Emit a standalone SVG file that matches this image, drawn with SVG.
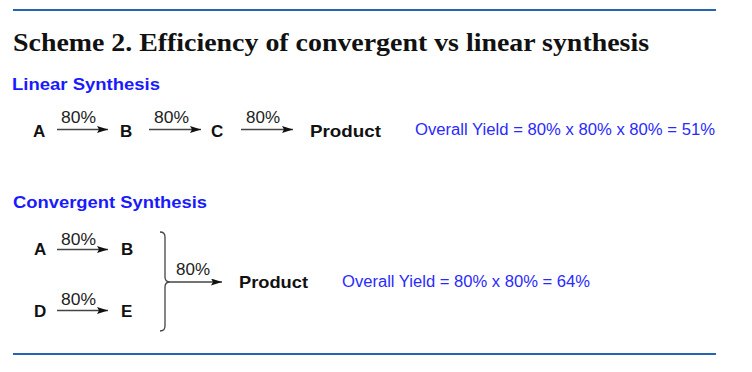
<svg xmlns="http://www.w3.org/2000/svg" width="752" height="372" viewBox="0 0 752 372">
<style>
.rule{stroke:#2563b3;stroke-width:2.2}
.title{font-family:"Liberation Serif","DejaVu Serif",serif;font-weight:bold;font-size:26px;fill:#111}
.head{font-family:"Liberation Sans",Arial,sans-serif;font-weight:bold;font-size:17px;fill:#1a1aff}
.node{font-family:"Liberation Sans",Arial,sans-serif;font-weight:bold;font-size:17px;fill:#111}
.pct{font-family:"Liberation Sans",Arial,sans-serif;font-size:16px;fill:#222}
.yield{font-family:"Liberation Sans",Arial,sans-serif;font-size:16px;fill:#2a2aff}
.arr{stroke:#444;stroke-width:1.3;fill:none}
</style>
<defs>
<marker id="ah" viewBox="0 0 11 7" refX="11" refY="3.5" markerWidth="11" markerHeight="7" markerUnits="userSpaceOnUse" orient="auto">
<path d="M0,0 L11,3.5 L0,7 L2,3.5 Z" fill="#111"/>
</marker>
</defs>
<line class="rule" x1="13" y1="10" x2="716" y2="10"/>
<line class="rule" x1="13" y1="354" x2="716" y2="354"/>
<text class="title" x="13" y="51" textLength="636" lengthAdjust="spacingAndGlyphs">Scheme 2. Efficiency of convergent vs linear synthesis</text>
<text class="head" x="12" y="90" textLength="148" lengthAdjust="spacingAndGlyphs">Linear Synthesis</text>
<text class="head" x="13" y="208" textLength="194" lengthAdjust="spacingAndGlyphs">Convergent Synthesis</text>

<g id="linA"><text class="node" x="33" y="137">A</text></g>
<g id="linB"><text class="node" x="120" y="137">B</text></g>
<g id="linC"><text class="node" x="211" y="137">C</text></g>
<g id="linProduct"><text class="node" x="310" y="137" textLength="71" lengthAdjust="spacingAndGlyphs">Product</text></g>
<g id="linYield"><text class="yield" x="415" y="135" textLength="300" lengthAdjust="spacingAndGlyphs">Overall Yield = 80% x 80% x 80% = 51%</text></g>

<g id="convA"><text class="node" x="34" y="255">A</text></g>
<g id="convB"><text class="node" x="121" y="255">B</text></g>
<g id="convD"><text class="node" x="34" y="317">D</text></g>
<g id="convE"><text class="node" x="121" y="317">E</text></g>
<g id="convProduct"><text class="node" x="239" y="288" textLength="69" lengthAdjust="spacingAndGlyphs">Product</text></g>
<g id="convYield"><text class="yield" x="342" y="287" textLength="248" lengthAdjust="spacingAndGlyphs">Overall Yield = 80% x 80% = 64%</text></g>

<g id="connectors">
<line class="arr" x1="57" y1="129.5" x2="108" y2="129.5" marker-end="url(#ah)"/>
<text class="pct" x="61" y="123" textLength="35" lengthAdjust="spacingAndGlyphs">80%</text>
<line class="arr" x1="149" y1="129.5" x2="201" y2="129.5" marker-end="url(#ah)"/>
<text class="pct" x="154" y="123" textLength="35" lengthAdjust="spacingAndGlyphs">80%</text>
<line class="arr" x1="241" y1="129.5" x2="293" y2="129.5" marker-end="url(#ah)"/>
<text class="pct" x="246" y="123" textLength="34" lengthAdjust="spacingAndGlyphs">80%</text>

<line class="arr" x1="57" y1="249.5" x2="108" y2="249.5" marker-end="url(#ah)"/>
<text class="pct" x="61" y="245" textLength="35" lengthAdjust="spacingAndGlyphs">80%</text>
<line class="arr" x1="57" y1="310.5" x2="108" y2="310.5" marker-end="url(#ah)"/>
<text class="pct" x="61" y="305" textLength="35" lengthAdjust="spacingAndGlyphs">80%</text>

<path class="arr" d="M160,232 Q165,232 165,237 L165,277 Q165,282 170,282 Q165,282 165,287 L165,326 Q165,331 160,331"/>
<line class="arr" x1="170" y1="282" x2="222" y2="282" marker-end="url(#ah)"/>
<text class="pct" x="176" y="275" textLength="34" lengthAdjust="spacingAndGlyphs">80%</text>
</g>
</svg>
